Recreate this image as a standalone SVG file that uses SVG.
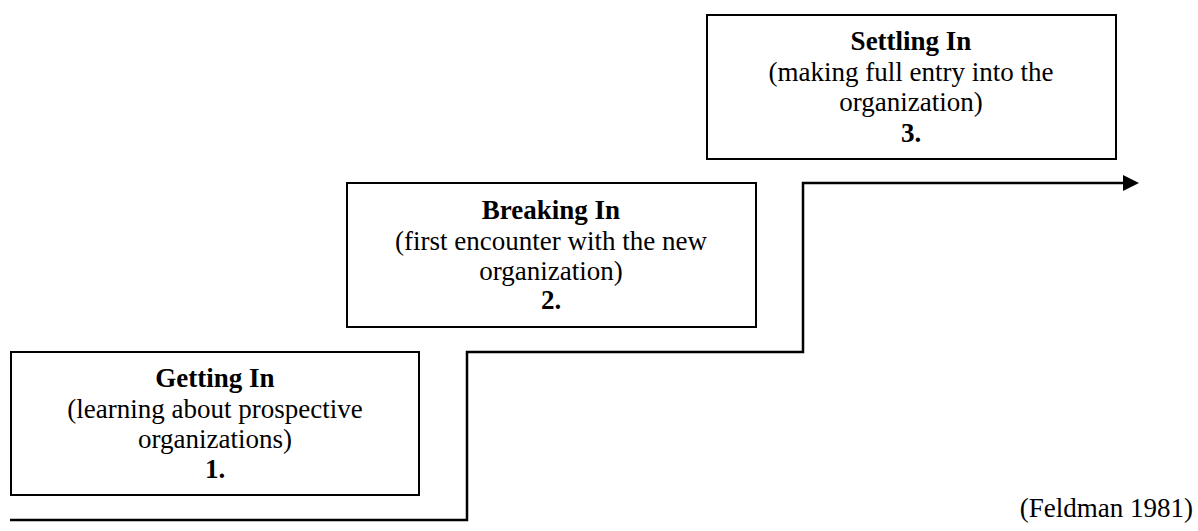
<svg xmlns="http://www.w3.org/2000/svg" width="1198" height="531" viewBox="0 0 1198 531">
  <style>
    .box { fill: #fff; stroke: #000; stroke-width: 2; }
    .title { font-family: "Liberation Serif", "Times New Roman", serif; font-size: 27px; font-weight: bold; text-anchor: middle; fill: #000; }
    .desc { font-family: "Liberation Serif", "Times New Roman", serif; font-size: 27px; text-anchor: middle; fill: #000; }
    .path { fill: none; stroke: #000; stroke-width: 2.5; }
    .cite { font-family: "Liberation Serif", "Times New Roman", serif; font-size: 27px; text-anchor: end; fill: #000; }
  </style>
  <defs>
    <marker id="arrow" markerUnits="userSpaceOnUse" markerWidth="17" markerHeight="17" refX="0" refY="8" orient="auto">
      <path d="M0,0 L16,8 L0,16 Z" fill="#000"/>
    </marker>
  </defs>

  <!-- stepped progression line -->
  <g id="connectors">
    <polyline class="path" points="10,520 467,520 467,352 803,352 803,183 1123,183" marker-end="url(#arrow)"/>
  </g>

  <g id="stage1">
    <rect class="box" x="11" y="352" width="408" height="143"/>
    <text class="title" x="215" y="387">Getting In</text>
    <text class="desc" x="215" y="418">(learning about prospective</text>
    <text class="desc" x="215" y="448">organizations)</text>
    <text class="title" x="215" y="478">1.</text>
  </g>

  <g id="stage2">
    <rect class="box" x="347" y="183" width="409" height="144"/>
    <text class="title" x="551" y="219">Breaking In</text>
    <text class="desc" x="551" y="250">(first encounter with the new</text>
    <text class="desc" x="551" y="280">organization)</text>
    <text class="title" x="551" y="309">2.</text>
  </g>

  <g id="stage3">
    <rect class="box" x="707" y="15" width="409" height="144"/>
    <text class="title" x="911" y="50">Settling In</text>
    <text class="desc" x="911" y="81">(making full entry into the</text>
    <text class="desc" x="911" y="111">organization)</text>
    <text class="title" x="911" y="142">3.</text>
  </g>

  <text class="cite" x="1193" y="517">(Feldman 1981)</text>
</svg>
